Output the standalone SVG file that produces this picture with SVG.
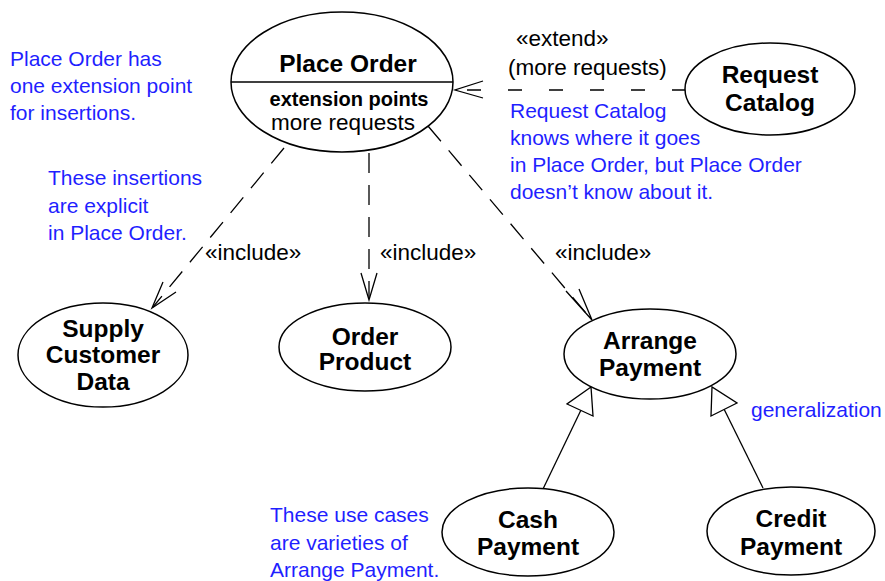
<svg xmlns="http://www.w3.org/2000/svg" width="885" height="581" viewBox="0 0 885 581">
<style>
.uc{fill:#fff;stroke:#000;stroke-width:1.5}
.nt{font-family:"Liberation Sans",Arial,sans-serif;font-weight:bold;font-size:24.5px;fill:#000;text-anchor:middle}
.lb{font-family:"Liberation Sans",Arial,sans-serif;font-size:22.5px;fill:#000}
.note{font-family:"Liberation Sans",Arial,sans-serif;font-size:21px;fill:#1f1fff}
.dep{fill:none;stroke:#000;stroke-width:1.3;stroke-dasharray:20,12}
.ext{fill:none;stroke:#000;stroke-width:1.3;stroke-dasharray:14,27}
.head{fill:none;stroke:#000;stroke-width:1.3}
.gen{fill:none;stroke:#000;stroke-width:1.3}
.tri{fill:#fff;stroke:#000;stroke-width:1.3}
</style>
<g id="connectors">
  <line class="ext" x1="686" y1="90" x2="456" y2="90"/>
  <polyline class="head" points="483,81 455,90 483,98"/>
  <line class="dep" x1="284" y1="148" x2="153" y2="307"/>
  <polyline class="head" points="163,282 152,308 176,292"/>
  <line class="dep" x1="369" y1="153" x2="369" y2="299"/>
  <polyline class="head" points="361,273 369,300 377,273"/>
  <line class="dep" x1="428" y1="126" x2="591" y2="319"/>
  <polyline class="head" points="566,291 592,320 579,289"/>
  <line class="gen" x1="543" y1="489" x2="581" y2="410"/>
  <polygon class="tri" points="591,387 567,404 593,416"/>
  <line class="gen" x1="763" y1="488" x2="724" y2="409"/>
  <polygon class="tri" points="712,387 711,416 737,403"/>
  <text class="lb" x="516" y="46">«extend»</text>
  <text class="lb" x="508" y="75">(more requests)</text>
  <text class="lb" x="205" y="260">«include»</text>
  <text class="lb" x="380" y="260">«include»</text>
  <text class="lb" x="555" y="260">«include»</text>
</g>
<g id="place-order">
  <ellipse class="uc" cx="342" cy="82" rx="111" ry="70"/>
  <line x1="231" y1="82" x2="453" y2="82" stroke="#000" stroke-width="1.5"/>
  <text class="nt" x="348" y="72">Place Order</text>
  <text class="nt" x="349" y="106" style="font-size:20px">extension points</text>
  <text class="lb" x="343" y="130" text-anchor="middle" style="font-size:22.5px">more requests</text>
</g>
<g id="request-catalog">
  <ellipse class="uc" cx="770" cy="89" rx="85" ry="46"/>
  <text class="nt" x="770" y="83">Request</text>
  <text class="nt" x="770" y="111">Catalog</text>
</g>
<g id="supply-customer-data">
  <ellipse class="uc" cx="103" cy="355" rx="85" ry="52"/>
  <text class="nt" x="103" y="337">Supply</text>
  <text class="nt" x="103" y="363">Customer</text>
  <text class="nt" x="103" y="390">Data</text>
</g>
<g id="order-product">
  <ellipse class="uc" cx="365" cy="347" rx="86" ry="44"/>
  <text class="nt" x="365" y="345">Order</text>
  <text class="nt" x="365" y="370">Product</text>
</g>
<g id="arrange-payment">
  <ellipse class="uc" cx="650" cy="354" rx="86" ry="45"/>
  <text class="nt" x="650" y="349">Arrange</text>
  <text class="nt" x="650" y="376">Payment</text>
</g>
<g id="cash-payment">
  <ellipse class="uc" cx="528" cy="532" rx="86" ry="44"/>
  <text class="nt" x="528" y="528">Cash</text>
  <text class="nt" x="528" y="555">Payment</text>
</g>
<g id="credit-payment">
  <ellipse class="uc" cx="791" cy="531" rx="84" ry="44"/>
  <text class="nt" x="791" y="527">Credit</text>
  <text class="nt" x="791" y="555">Payment</text>
</g>
<g id="notes">
  <text class="note" x="10" y="66">Place Order has</text>
  <text class="note" x="10" y="93">one extension point</text>
  <text class="note" x="10" y="120">for insertions.</text>
  <text class="note" x="48" y="185">These insertions</text>
  <text class="note" x="48" y="213">are explicit</text>
  <text class="note" x="48" y="240">in Place Order.</text>
  <text class="note" x="510" y="118">Request Catalog</text>
  <text class="note" x="510" y="145">knows where it goes</text>
  <text class="note" x="510" y="172">in Place Order, but Place Order</text>
  <text class="note" x="510" y="199">doesn’t know about it.</text>
  <text class="note" x="751" y="417">generalization</text>
  <text class="note" x="270" y="522">These use cases</text>
  <text class="note" x="270" y="550">are varieties of</text>
  <text class="note" x="270" y="577">Arrange Payment.</text>
</g>
</svg>
